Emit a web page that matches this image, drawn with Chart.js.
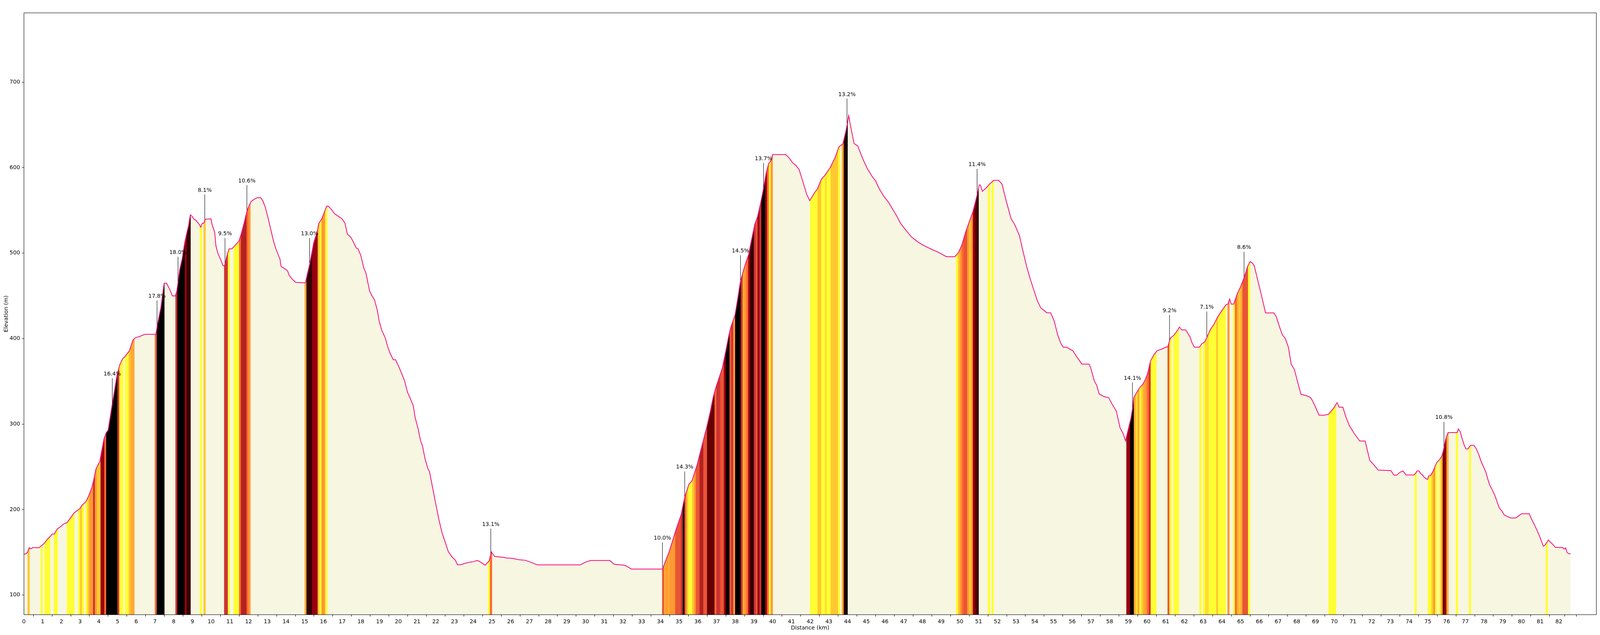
<!DOCTYPE html>
<html>
<head>
<meta charset="utf-8">
<title>Elevation profile</title>
<script src="https://cdn.jsdelivr.net/npm/chart.js@4.4.1/dist/chart.umd.min.js"></script>
<style>
  html, body { margin: 0; padding: 0; background: #fff; overflow: hidden; }
  canvas { display: block; }
</style>
</head>
<body>
<canvas id="profileChart"></canvas>
<script>
// route profile (km, m)
const distKm = [
  0, 0.1, 0.19, 0.28, 0.33, 0.41, 0.44, 0.81, 0.99, 1.07, 1.25, 1.43, 1.51, 1.63, 1.69, 1.79, 1.95, 2.08, 2.2, 2.29,
  2.48, 2.67, 2.81, 2.9, 2.99, 3.1, 3.3, 3.46, 3.63, 3.74, 3.84, 3.95, 4.05, 4.15, 4.28, 4.4, 4.5, 4.72, 4.98, 5.12,
  5.27, 5.38, 5.63, 5.69, 5.82, 5.91, 5.99, 6.17, 6.35, 6.48, 7.05, 7.14, 7.31, 7.49, 7.62, 7.8, 7.93, 8.09, 8.17, 8.23,
  8.32, 8.45, 8.59, 8.7, 8.79, 8.89, 9.0, 9.07, 9.2, 9.33, 9.45, 9.53, 9.61, 9.68, 9.99, 10.05, 10.19, 10.26, 10.36, 10.56,
  10.63, 10.71, 10.76, 10.84, 10.96, 11.11, 11.22, 11.31, 11.49, 11.62, 11.79, 11.92, 12.04, 12.14, 12.32, 12.45, 12.65, 12.76, 12.89, 13.07,
  13.2, 13.33, 13.46, 13.68, 13.74, 13.94, 14.08, 14.16, 14.34, 14.52, 15.04, 15.13, 15.28, 15.48, 15.66, 15.75, 15.9, 16.05, 16.17, 16.26,
  16.43, 16.6, 16.8, 17.0, 17.15, 17.28, 17.45, 17.6, 17.75, 17.85, 18.0, 18.15, 18.28, 18.37, 18.47, 18.6, 18.73, 18.88, 18.98, 19.11,
  19.3, 19.43, 19.56, 19.73, 19.85, 20.01, 20.14, 20.33, 20.49, 20.65, 20.8, 20.9, 21.06, 21.19, 21.29, 21.42, 21.57, 21.67, 21.83, 21.99,
  22.18, 22.34, 22.5, 22.67, 22.85, 23.05, 23.16, 23.36, 23.59, 23.78, 24.0, 24.21, 24.33, 24.64, 24.85, 24.97, 25.15, 25.67, 25.79, 26.09,
  26.43, 26.79, 27.02, 27.28, 27.43, 29.71, 29.99, 30.27, 31.3, 31.53, 32.04, 32.19, 32.45, 34.11, 34.47, 34.86, 35.11, 35.3, 35.52, 35.69,
  35.97, 36.22, 36.48, 36.67, 36.8, 36.95, 37.12, 37.31, 37.5, 37.66, 37.76, 37.99, 38.14, 38.27, 38.4, 38.55, 38.72, 38.85, 39.04, 39.19,
  39.36, 39.51, 39.65, 39.78, 39.9, 40.0, 40.7, 40.89, 41.09, 41.24, 41.41, 41.6, 41.83, 41.98, 42.21, 42.39, 42.6, 42.81, 43.07, 43.33,
  43.54, 43.75, 43.93, 44.06, 44.18, 44.35, 44.54, 44.82, 45.05, 45.31, 45.5, 45.69, 45.95, 46.21, 46.4, 46.65, 46.82, 47.1, 47.42, 47.74,
  48.06, 48.51, 48.89, 49.28, 49.73, 49.92, 50.11, 50.3, 50.49, 50.69, 50.84, 50.94, 51.03, 51.1, 51.2, 51.39, 51.58, 51.81, 52.07, 52.25,
  52.48, 52.73, 52.93, 53.18, 53.37, 53.57, 53.76, 53.95, 54.14, 54.33, 54.65, 54.85, 55.04, 55.23, 55.39, 55.52, 55.71, 55.84, 56.03, 56.22,
  56.52, 56.9, 56.99, 57.18, 57.31, 57.44, 57.69, 57.95, 58.14, 58.36, 58.56, 58.72, 58.85, 58.97, 59.13, 59.23, 59.29, 59.46, 59.61, 59.77,
  59.9, 60.02, 60.19, 60.38, 60.54, 60.74, 60.92, 61.11, 61.24, 61.41, 61.56, 61.73, 61.85, 62.07, 62.3, 62.4, 62.53, 62.79, 62.92, 63.07,
  63.2, 63.39, 63.58, 63.77, 63.97, 64.22, 64.32, 64.41, 64.5, 64.63, 64.8, 65.02, 65.18, 65.37, 65.5, 65.63, 65.73, 65.91, 66.1, 66.33,
  66.78, 66.91, 67.06, 67.23, 67.38, 67.55, 67.7, 67.87, 68.22, 68.38, 68.64, 68.77, 68.96, 69.19, 69.47, 69.7, 69.98, 70.15, 70.26, 70.46,
  70.62, 70.81, 71.07, 71.36, 71.65, 71.77, 71.9, 72.09, 72.35, 73.03, 73.18, 73.34, 73.49, 73.66, 73.73, 73.83, 74.25, 74.34, 74.42, 74.53,
  74.61, 74.72, 74.78, 74.92, 74.99, 75.04, 75.14, 75.19, 75.3, 75.4, 75.48, 75.57, 75.66, 75.74, 75.81, 75.88, 75.96, 76.08, 76.56, 76.63,
  76.73, 76.83, 76.94, 77.04, 77.14, 77.28, 77.46, 77.58, 77.72, 77.86, 77.99, 78.1, 78.2, 78.3, 78.44, 78.57, 78.68, 78.81, 78.95, 79.09,
  79.29, 79.43, 79.7, 80.01, 80.42, 80.52, 80.66, 80.83, 81.0, 81.17, 81.24, 81.34, 81.44, 81.54, 81.68, 81.82, 82.21, 82.24, 82.33, 82.36,
  82.44, 82.53, 82.62
];
const elevM = [
  148, 148, 150, 155.4, 154.3, 154.3, 155.4, 155.4, 158.7, 160.2, 165.3, 169.1, 171.4, 171.4, 174.2, 177.5, 179.8, 182.4, 184, 184.4,
  190, 195.9, 198.2, 199.7, 201.2, 205, 209, 216, 226, 236, 247, 252, 256, 268, 283, 290, 293, 323.4, 358, 369.3,
  376.4, 378.5, 385.6, 389.7, 397.9, 400.3, 401.3, 402.4, 404, 405, 405, 417.3, 435.6, 464.8, 464.8, 457, 449.9, 449.9, 456, 465.2,
  480.5, 492.8, 512.2, 523.4, 531.6, 544.8, 542.8, 540.1, 538.1, 534.6, 530.5, 535, 535, 539.7, 540.1, 533.6, 524.4, 508.1, 499.9, 489.7,
  485.2, 485.2, 488.7, 496.9, 505, 505, 507.7, 509.7, 514.2, 523.4, 537.7, 549.9, 556.1, 560.5, 563.2, 564.8, 564.8, 561.2, 554, 538.7,
  526.5, 514.2, 505, 492.8, 484.2, 481.6, 479.5, 474.4, 469.3, 465.8, 465.2, 474.4, 488.3, 512.2, 524.4, 534.6, 539.7, 547.9, 555, 555,
  551, 546, 543, 540, 535, 522, 519, 513, 506, 505, 497, 483, 476, 465.8, 455.5, 449.8, 445.3, 432.8, 420.3, 410,
  401, 390.7, 382.8, 375.3, 375.3, 368, 361.2, 350.9, 337.3, 329.3, 321.4, 307.7, 294.1, 280.4, 274.7, 260, 248.6, 244, 225.9, 207.7,
  187.2, 172.4, 162.2, 150.8, 145.1, 140.6, 135.3, 135.6, 137.2, 138.3, 139, 140.4, 139.4, 134.9, 139.9, 150.4, 145.1, 144, 143.3, 142.9,
  141.3, 140.6, 138.8, 136.5, 135.3, 135.3, 138.3, 140.4, 140.4, 136, 134.9, 133.8, 130.4, 130.4, 150.8, 178.1, 194, 214.5, 229.3, 233.8,
  252.8, 274.6, 296.5, 314.7, 329.3, 342, 353, 365.7, 385.8, 404, 413.1, 427.7, 447.7, 465.9, 476.9, 487.8, 498.7, 513.3, 533.3, 542.5,
  558.8, 575.3, 593.5, 604.4, 608, 615.3, 615.3, 611, 605.1, 602.6, 597.8, 584.4, 568, 561.4, 569.8, 575.3, 586.2, 591.6, 600, 611.7,
  624.4, 627.7, 644.5, 660.9, 646.3, 628.1, 625.5, 609.9, 599, 589.8, 584.4, 575.3, 566.1, 558.8, 551.6, 542.5, 535.2, 527.1, 518.8, 513.3,
  508.9, 504.2, 500.5, 495.8, 495.8, 500.5, 509.7, 524.2, 535.9, 547.9, 560.7, 569.8, 579.6, 579.6, 572.3, 576, 580.7, 585.1, 585.1, 580.7,
  560.7, 540.6, 533.3, 520.6, 502.4, 484.1, 469.6, 456.8, 444.1, 435.7, 430.2, 430.2, 420.4, 404, 394.6, 389.9, 389.9, 388, 385.9, 379.4,
  370.2, 370.2, 365.7, 350.5, 345.3, 335.3, 332.2, 330.9, 323, 315.1, 295.4, 288.9, 280.2, 291.5, 305.9, 319, 330.9, 337.4, 342.6, 346.6,
  351.8, 358.4, 374.1, 381.5, 385.9, 387.3, 389.1, 390.7, 400.4, 403.5, 407.5, 413.5, 410.1, 410.1, 401.7, 395.1, 389.9, 389.9, 393.8, 395.9,
  401.7, 410.9, 416.9, 425.3, 431.9, 439.7, 440.3, 446.3, 440.3, 440.3, 451.5, 462, 471.2, 484.3, 490.1, 488.3, 484.9, 468.6, 451.5, 430,
  430, 425.3, 414.8, 404.3, 400.4, 389.9, 370.2, 363.7, 334.8, 334, 332.2, 330.1, 321.7, 310.4, 310.4, 311.7, 319, 325.1, 319.8, 319.8,
  308.5, 298.1, 288.9, 280.2, 280.2, 269.2, 257.4, 252.9, 246.1, 245.6, 240.3, 240.3, 243.3, 245.1, 243.7, 240.4, 240.4, 242.1, 245.1, 245.1,
  242.1, 240.4, 238.2, 235.8, 235.3, 239.2, 239.8, 241.4, 245.7, 251.6, 255, 257.1, 259.5, 262.4, 267.3, 274.2, 283.1, 290, 290, 294.3,
  291, 283.1, 275.6, 270.9, 270.9, 275.2, 275.2, 271.3, 264.4, 255.5, 249.2, 243.7, 235.8, 229, 223.1, 217.2, 210.3, 202, 198.5, 193.5,
  191.6, 190.2, 190.2, 195.1, 195.1, 189.6, 183.7, 175.8, 167, 157.1, 158.1, 161.1, 164.4, 162, 159.1, 155.6, 155.6, 154.2, 154.2, 155.2,
  149.7, 148.3, 148.3
];

// coloured 0.1 km cells, grouped in runs with the same gradient (%)
const bandStart = [
  0.2, 0.9, 1.1, 1.6, 2.3, 2.9, 3.0, 3.1, 3.3, 3.4, 3.5, 3.7, 3.8, 3.9, 4.1, 4.3, 4.4, 5.0, 5.1, 5.4,
  5.6, 5.7, 7.0, 7.1, 8.1, 8.2, 8.6, 8.7, 9.4, 9.6, 10.7, 10.9, 11.2, 11.5, 11.6, 11.9, 12.0,
  15.0, 15.1, 15.4, 15.7, 15.8, 15.9, 16.1,
  24.8, 24.9,
  34.1, 34.2, 34.3, 34.4, 34.5, 34.6, 34.8, 35.1, 35.2, 35.3, 35.4, 35.5, 35.7, 35.8, 35.9, 36.1, 36.3, 36.5, 36.9, 37.0,
  37.2, 37.4, 37.5, 37.7, 37.8, 37.9, 38.0, 38.3, 38.4, 38.5, 38.6, 38.7, 38.8, 39.0, 39.1, 39.2, 39.3, 39.4, 39.5, 39.6,
  39.7, 39.8, 39.9,
  42.0, 42.4, 42.6, 42.8, 42.9, 43.1, 43.5, 43.7, 43.8, 43.9,
  49.8, 49.9, 50.0, 50.1, 50.2, 50.4, 50.5, 50.6, 50.7, 50.8, 50.9, 51.5, 51.7,
  58.9, 59.1, 59.3, 59.4, 59.5, 59.6, 59.7, 59.8, 59.9, 60.0, 60.1, 60.2, 61.1, 61.2, 61.4, 62.8, 63.0, 63.1, 63.3, 63.7,
  63.8, 64.3, 64.6, 64.7, 64.8, 64.9, 65.0, 65.1, 65.4,
  69.7, 74.3, 75.0, 75.2, 75.3, 75.4, 75.6, 75.7, 75.8, 75.9, 76.0, 76.5, 77.2, 81.3
];
const bandEnd = [
  0.3, 1.0, 1.4, 1.8, 2.7, 3.0, 3.1, 3.2, 3.4, 3.5, 3.7, 3.8, 3.9, 4.1, 4.3, 4.4, 5.0, 5.1, 5.3, 5.6,
  5.7, 5.9, 7.1, 7.5, 8.2, 8.6, 8.7, 8.9, 9.5, 9.7, 10.9, 11.0, 11.5, 11.6, 11.9, 12.0, 12.1,
  15.1, 15.4, 15.7, 15.8, 15.9, 16.1, 16.2,
  24.9, 25.0,
  34.2, 34.3, 34.4, 34.5, 34.6, 34.8, 35.1, 35.2, 35.3, 35.4, 35.5, 35.7, 35.8, 35.9, 36.1, 36.3, 36.5, 36.9, 37.0, 37.2,
  37.4, 37.5, 37.7, 37.8, 37.9, 38.0, 38.3, 38.4, 38.5, 38.6, 38.7, 38.8, 39.0, 39.1, 39.2, 39.3, 39.4, 39.5, 39.6, 39.7,
  39.8, 39.9, 40.0,
  42.4, 42.6, 42.8, 42.9, 43.1, 43.5, 43.6, 43.8, 43.9, 44.0,
  49.9, 50.0, 50.1, 50.2, 50.4, 50.5, 50.6, 50.7, 50.8, 50.9, 51.0, 51.6, 51.8,
  59.1, 59.3, 59.4, 59.5, 59.6, 59.7, 59.8, 59.9, 60.0, 60.1, 60.2, 60.5, 61.2, 61.3, 61.7, 62.9, 63.1, 63.3, 63.7, 63.8,
  64.2, 64.4, 64.7, 64.8, 64.9, 65.0, 65.1, 65.4, 65.5,
  70.1, 74.4, 75.2, 75.3, 75.4, 75.5, 75.7, 75.8, 75.9, 76.0, 76.1, 76.6, 77.3, 81.4
];
const bandGrade = [
  4, 2.5, 2.5, 2.5, 2.5, 2.5, 4, 2.5, 2.5, 4, 6, 9, 6, 4, 11, 7, 15, 9, 2.5, 2.5,
  4, 5, 7, 15, 9, 15, 11, 13, 2.5, 4, 9, 2.5, 2.5, 7, 10, 7, 6,
  5, 13, 11, 4, 2.5, 6, 2.5,
  2.5, 7,
  8, 5, 6, 5, 6, 6, 8, 9, 14, 7, 4, 2.5, 4, 6, 8, 10, 8, 12, 7, 9,
  8, 11, 15, 8, 9, 6, 15, 9, 5, 6, 7, 11, 13, 9, 8, 11, 9, 15, 14, 11,
  7, 2.5, 6,
  2.5, 4, 2.5, 3.5, 2.5, 4, 2.5, 5, 13, 15,
  2.5, 4, 6, 7, 8, 6, 4, 6, 11, 12, 13, 2.5, 2.5,
  11, 15, 5, 3.5, 5, 2.5, 4, 5, 6, 7, 9, 2.5, 8, 2.5, 2.5, 2.5, 2.5, 3.5, 2.5, 4,
  2.5, 6, 2.5, 7, 5, 4, 5, 8, 2.5,
  2.5, 2.5, 2.5, 4, 6, 2.5, 2.5, 5, 12, 11, 5, 2.5, 2.5, 2.5
];

// steepest-ramp labels
const annKm = [4.72, 7.11, 8.23, 9.66, 10.74, 11.91, 15.26, 24.94, 34.11, 35.3, 38.28, 39.51, 43.97, 50.92, 59.22, 61.2, 63.19, 65.18, 75.86];
const annElev = [323, 414, 465, 538, 487, 549, 487, 147, 131, 214, 467, 575, 650, 568, 318, 397, 401, 471, 272];
const annText = ["16.4%", "17.8%", "18.0%", "8.1%", "9.5%", "10.6%", "13.0%", "13.1%", "10.0%", "14.3%", "14.5%",
                 "13.7%", "13.2%", "11.4%", "14.1%", "9.2%", "7.1%", "8.6%", "10.8%"];

const xTickKm = [0, 1, 2, 3, 4, 5, 6, 7, 8, 9, 10, 11, 12, 13, 14, 15, 16, 17, 18, 19, 20, 21, 22, 23, 24, 25, 26, 27,
                 28, 29, 30, 31, 32, 33, 34, 35, 36, 37, 38, 39, 40, 41, 42, 43, 44, 45, 46, 47, 48, 49, 50, 51, 52, 53, 54,
                 55, 56, 57, 58, 59, 60, 61, 62, 63, 64, 65, 66, 67, 68, 69, 70, 71, 72, 73, 74, 75, 76, 77, 78, 79, 80, 81,
                 82, 82.62];
const xTickLabels = xTickKm.map(v => Number.isInteger(v) ? String(v) : "");
const yTickM = [100, 200, 300, 400, 500, 600, 700];

const Y_MIN = 77;
const Y_MAX = 781;
const X_MAX = 84;

// fit the figure to the window that is actually there
const W = window.innerWidth || 4344;
const H = window.innerHeight || 1625;
const sx = W / 4344;
const sy = H / 1625;

const canvas = document.getElementById("profileChart");
canvas.style.width = W + "px";
canvas.style.height = H + "px";

function gradeColor(g) {
    if (g < 3) return "#ffff33";
    if (g < 3.75) return "#ffdd33";
    if (g < 4.5) return "#ffc832";
    if (g < 5.5) return "#ffaa33";
    if (g < 6.5) return "#ff9933";
    if (g < 7.5) return "#ff6633";
    if (g < 8.75) return "#e85535";
    if (g < 9.5) return "#cc3333";
    if (g < 10.5) return "#b22222";
    if (g < 11.25) return "#990011";
    if (g < 12.5) return "#660000";
    if (g < 14) return "#330000";
    return "#000000";
}

// split each run into its 0.1 km cells
const cells = [];
bandStart.forEach((s, i) => {
    const n = Math.round((bandEnd[i] - s) * 10);
    for (let k = 0; k < n; k++) {
        cells.push({ x: s + (k + 0.5) * 0.1, y: [Y_MIN, Y_MAX], grade: bandGrade[i] });
    }
});

const profilePoints = distKm.map((d, i) => ({ x: d, y: elevM[i] }));

Chart.defaults.font.family = "'DejaVu Sans', sans-serif";
Chart.defaults.font.size = 14;
Chart.defaults.color = "#000";

const framePlugin = {
    id: "frameAndLabels",
    afterDatasetsDraw(chart) {
        const { ctx, chartArea, scales } = chart;
        ctx.save();
        ctx.strokeStyle = "#000";
        ctx.lineWidth = 1.1;
        ctx.strokeRect(chartArea.left, chartArea.top, chartArea.right - chartArea.left, chartArea.bottom - chartArea.top);

        ctx.font = "14px 'DejaVu Sans', sans-serif";
        ctx.fillStyle = "#000";
        ctx.textAlign = "center";
        ctx.textBaseline = "alphabetic";
        annKm.forEach((km, i) => {
            const px = scales.x.getPixelForValue(km);
            const py = scales.y.getPixelForValue(annElev[i]);
            ctx.beginPath();
            ctx.moveTo(px, py - 67 * sy);
            ctx.lineTo(px, py - 3 * sy);
            ctx.stroke();
            ctx.fillText(annText[i], px, py - 74 * sy);
        });
        ctx.restore();
    }
};

new Chart(canvas, {
    type: "line",
    data: {
        datasets: [
            {
                label: "ground",
                data: profilePoints,
                borderColor: "rgba(0,0,0,0)",
                borderWidth: 0,
                backgroundColor: "#f7f6e1",
                fill: "start",
                pointRadius: 0,
                order: 3
            },
            {
                type: "bar",
                label: "gradient",
                data: cells,
                backgroundColor: cells.map(c => gradeColor(c.grade)),
                borderWidth: 0,
                barThickness: 5.2 * sx,
                order: 2
            },
            {
                label: "Elevation",
                data: profilePoints,
                borderColor: "#f5087f",
                borderWidth: 2,
                backgroundColor: "#ffffff",
                fill: "end",
                pointRadius: 0,
                tension: 0,
                order: 1
            }
        ]
    },
    options: {
        responsive: false,
        maintainAspectRatio: false,
        animation: false,
        events: [],
        layout: { padding: { left: 0, top: 33 * sy, right: 10 * sx, bottom: 0 } },
        plugins: {
            legend: { display: false },
            tooltip: { enabled: false }
        },
        scales: {
            x: {
                type: "linear",
                min: 0,
                max: X_MAX,
                offset: false,
                afterBuildTicks: scale => { scale.ticks = xTickKm.map(v => ({ value: v })); },
                afterFit: scale => { scale.height = 52 * sy; },
                ticks: {
                    autoSkip: false,
                    maxRotation: 0,
                    padding: 5,
                    callback: (value, index) => xTickLabels[index]
                },
                grid: { drawOnChartArea: false, drawTicks: true, tickLength: 5, color: "#000", lineWidth: 1.1 },
                border: { display: false },
                title: { display: true, text: "Distance (km)", padding: { top: 0, bottom: 9.6 * sy } }
            },
            y: {
                type: "linear",
                min: Y_MIN,
                max: Y_MAX,
                afterBuildTicks: scale => { scale.ticks = yTickM.map(v => ({ value: v })); },
                afterFit: scale => { scale.width = 65 * sx; },
                ticks: { padding: 5 },
                grid: { drawOnChartArea: false, drawTicks: true, tickLength: 5, color: "#000", lineWidth: 1.1 },
                border: { display: false },
                title: { display: true, text: "Elevation (m)", padding: { top: 8.6 * sx, bottom: 0 } }
            }
        }
    },
    plugins: [framePlugin]
});
</script>
</body>
</html>
